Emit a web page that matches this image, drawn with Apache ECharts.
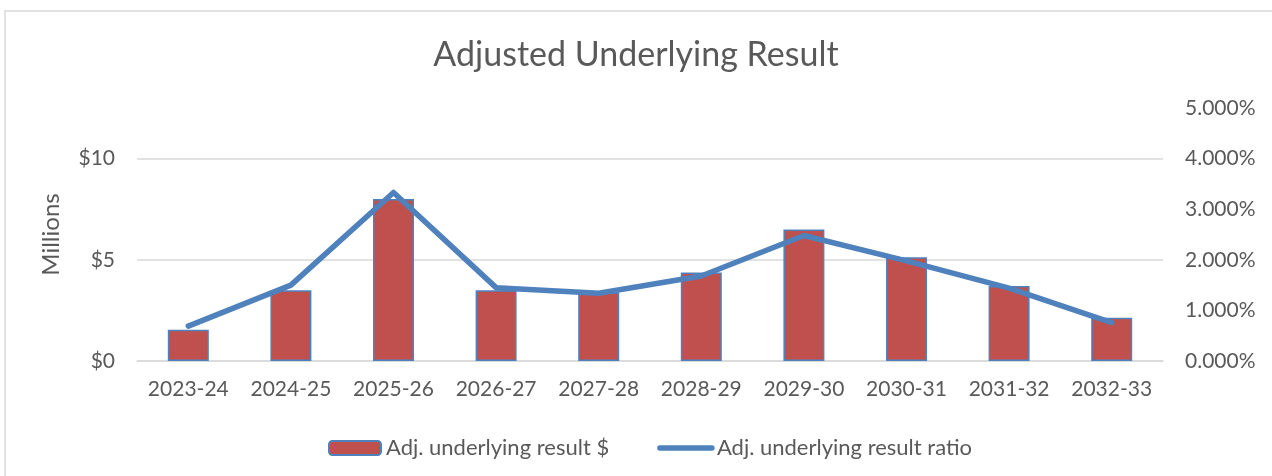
<!DOCTYPE html>
<html>
<head>
<meta charset="utf-8">
<script src="https://cdn.jsdelivr.net/npm/echarts@6/dist/echarts.min.js"></script>
<style>
  body { margin: 0; background: #fff; }
  #frame { position: absolute; left: 4px; top: 10px; width: 1400px; height: 600px;
           border-left: 2px solid #e2e2e2; border-top: 2px solid #e2e2e2; }
  #main { position: absolute; left: 0; top: 0; width: 1272px; height: 476px; }
</style>
</head>
<body>
<div id="frame"></div>
<div id="main"></div>
<script type="text/javascript">
  // financial years
  var years = ['2023-24', '2024-25', '2025-26', '2026-27', '2027-28',
               '2028-29', '2029-30', '2030-31', '2031-32', '2032-33'];
  // adjusted underlying result, $ millions
  var resultM = [1.55, 3.5, 8.0, 3.5, 3.38, 4.37, 6.5, 5.13, 3.71, 2.14];
  // adjusted underlying result ratio, %
  var ratioPct = [0.69, 1.50, 3.33, 1.45, 1.34, 1.68, 2.48, 1.98, 1.44, 0.76];

  var font = 'Lato';
  var grey = '#595959';
  var blue = '#4f81bd';

  var chart = echarts.init(document.getElementById('main'));
  chart.setOption({
    animation: false,
    title: {
      text: 'Adjusted Underlying Result',
      left: 'center',
      top: 33,
      textStyle: { fontFamily: font, fontSize: 34, fontWeight: 'normal', color: grey }
    },
    legend: {
      left: 323,
      top: 432,
      itemWidth: 52,
      itemHeight: 14,
      itemGap: 48,
      textStyle: { fontFamily: font, fontSize: 22, color: grey },
      data: [
        'Adj. underlying result $',
        {
          name: 'Adj. underlying result ratio',
          itemStyle: { color: 'rgba(0,0,0,0)' },
          lineStyle: { color: blue, width: 5.5 }
        }
      ]
    },
    grid: { left: 137, right: 109, top: 108, bottom: 115 },
    xAxis: {
      type: 'category',
      data: years,
      axisTick: { show: false },
      axisLine: { lineStyle: { color: '#d9d9d9', width: 1.5 } },
      axisLabel: { fontFamily: font, fontSize: 21, color: grey, margin: 18, interval: 0 }
    },
    yAxis: [
      {
        type: 'value',
        min: 0,
        max: 12.5,
        interval: 5,
        name: 'Millions',
        nameLocation: 'middle',
        nameGap: 74,
        nameTextStyle: { fontFamily: font, fontSize: 24, color: grey },
        axisLine: { show: false },
        axisTick: { show: false },
        axisLabel: {
          fontFamily: font, fontSize: 21, color: grey, margin: 22,
          showMaxLabel: false,
          formatter: function (v) { return '$' + v; }
        },
        splitLine: { showMaxLine: false, lineStyle: { color: '#d9d9d9', width: 1.5 } }
      },
      {
        type: 'value',
        min: 0,
        max: 5,
        interval: 1,
        position: 'right',
        axisLine: { show: false },
        axisTick: { show: false },
        splitLine: { show: false },
        axisLabel: {
          fontFamily: font, fontSize: 21, color: grey, margin: 22,
          formatter: function (v) { return v.toFixed(3) + '%'; }
        }
      }
    ],
    series: [
      {
        name: 'Adj. underlying result $',
        type: 'bar',
        data: resultM,
        barWidth: 41,
        itemStyle: { color: '#c0504d', borderColor: blue, borderWidth: 1.5 }
      },
      {
        name: 'Adj. underlying result ratio',
        type: 'line',
        yAxisIndex: 1,
        data: ratioPct,
        symbol: 'none',
        itemStyle: { color: blue },
        lineStyle: { color: blue, width: 5.5, cap: 'round', join: 'round' }
      }
    ]
  });
</script>
</body>
</html>
